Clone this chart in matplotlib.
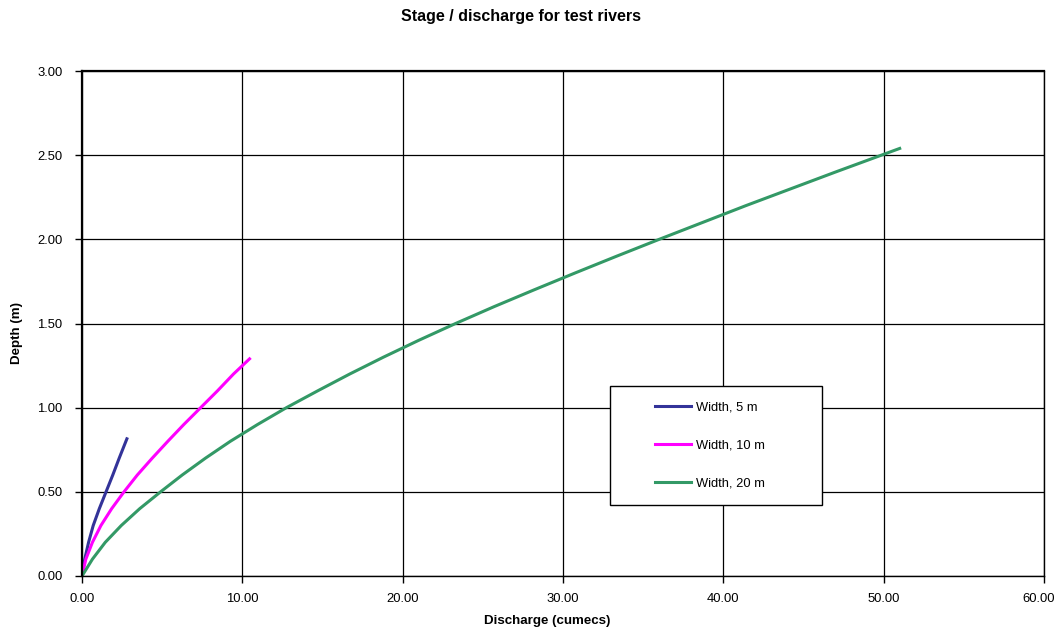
import matplotlib
matplotlib.use("Agg")
import matplotlib.pyplot as plt
from matplotlib.patches import Rectangle
from matplotlib.ticker import MultipleLocator, FuncFormatter, FormatStrFormatter

plt.rcParams['font.family'] = ['Liberation Sans', 'DejaVu Sans']

# depth (m) against discharge (cumecs)
depth_5m = [0, 0.1, 0.2, 0.3, 0.4, 0.5, 0.6, 0.7, 0.815]
flow_5m = [0, 0.17, 0.41, 0.7, 1.08, 1.5, 1.92, 2.32, 2.8]

depth_10m = [0, 0.1, 0.2, 0.3, 0.4, 0.5, 0.6, 0.7, 0.8, 0.9, 1.0, 1.1, 1.2, 1.29]
flow_10m = [0, 0.24, 0.65, 1.18, 1.85, 2.62, 3.45, 4.38, 5.35, 6.35, 7.4, 8.45, 9.45, 10.45]

depth_20m = [0, 0.1, 0.2, 0.3, 0.4, 0.5, 0.6, 0.7, 0.8, 0.9, 1.0, 1.1, 1.2, 1.3,
             1.4, 1.5, 1.6, 1.7, 1.8, 1.9, 2.0, 2.1, 2.2, 2.3, 2.4, 2.54]
flow_20m = [0, 0.65, 1.45, 2.45, 3.6, 4.9, 6.25, 7.7, 9.25, 10.95, 12.75, 14.7, 16.7, 18.8,
            21.0, 23.3, 25.7, 28.2, 30.75, 33.35, 36.0, 38.7, 41.4, 44.2, 47.0, 51.0]

labels = ['Width, 5 m', 'Width, 10 m', 'Width, 20 m']
colors = ['#333399', '#FF00FF', '#339966']
x_max = 60

fig = plt.figure(figsize=(10.58, 6.29), dpi=100)
ax = fig.add_axes([82 / 1058, 1 - 576 / 629, 962 / 1058, 505 / 629])

ax.plot(flow_5m, depth_5m, color=colors[0], lw=2.2, label=labels[0], solid_joinstyle='round')
ax.plot(flow_10m, depth_10m, color=colors[1], lw=2.2, label=labels[1], solid_joinstyle='round')
ax.plot(flow_20m, depth_20m, color=colors[2], lw=2.2, label=labels[2], solid_joinstyle='round')

ax.set_xlim(0, x_max)
ax.set_ylim(0, 3)
ax.xaxis.set_major_locator(MultipleLocator(10))
ax.yaxis.set_major_locator(MultipleLocator(0.5))
# last x label is drawn separately so it does not run off the right edge
ax.xaxis.set_major_formatter(FuncFormatter(lambda v, p: '' if v >= x_max - 1e-9 else f'{v:.2f}'))
ax.yaxis.set_major_formatter(FormatStrFormatter('%.2f'))
ax.grid(True, color='black', lw=0.9)
ax.set_axisbelow(True)
for s in ax.spines.values():
    s.set_color('black')
    s.set_linewidth(1.0)
ax.spines['left'].set_linewidth(1.6)
ax.spines['top'].set_linewidth(1.6)
ax.tick_params(axis='both', direction='out', length=5, width=1, labelsize=9.4, colors='black')
ax.tick_params(axis='y', pad=9)
ax.tick_params(axis='x', pad=7)
ax.annotate(f'{x_max:.2f}', xy=(x_max, 0), xycoords=('data', 'axes fraction'),
            xytext=(8, -12), textcoords='offset points', ha='right', va='top',
            fontsize=9.4, annotation_clip=False)

ax.set_xlabel('Discharge (cumecs)', fontsize=9.6, fontweight='bold')
ax.set_ylabel('Depth (m)', fontsize=9.6, fontweight='bold')
ax.xaxis.set_label_coords(0.4834, -0.077)
ax.yaxis.set_label_coords(-0.0613, 0.481)

fig.text(521 / 1058, 1 - 17 / 629, 'Stage / discharge for test rivers',
         ha='center', va='center', fontsize=11.5, fontweight='bold')

# legend box
ax.add_patch(Rectangle((0.549, 0.1406), 0.22, 0.2354, transform=ax.transAxes,
                       facecolor='white', edgecolor='black', lw=1.0, zorder=5))
leg = ax.legend(loc='center left', bbox_to_anchor=(0.5956, 0.258), frameon=False,
                fontsize=9.3, handlelength=2.8, handletextpad=0.4, labelspacing=2.0,
                borderpad=0, borderaxespad=0)
leg.set_zorder(6)

fig.savefig('out.png', dpi=100)
